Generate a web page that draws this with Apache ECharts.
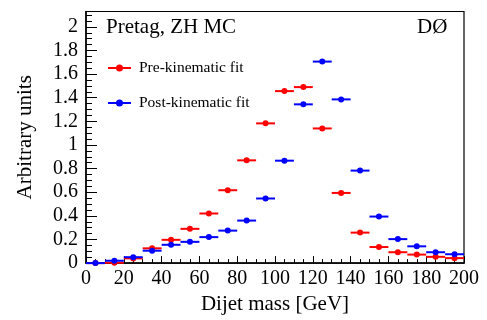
<!DOCTYPE html>
<html>
<head>
<meta charset="utf-8">
<script src="https://cdn.jsdelivr.net/npm/echarts@6/dist/echarts.min.js"></script>
<style>html,body{margin:0;padding:0;background:#fff}#c{width:487px;height:320px}</style>
</head>
<body>
<div id="c"></div>
<script>
// Bin centres (GeV), bin width 10 GeV
var binCenters = [5, 15, 25, 35, 45, 55, 65, 75, 85, 95, 105, 115, 125, 135, 145, 155, 165, 175, 185, 195];
var binWidth = 10;
var preFit  = [0.0, 0.003, 0.04, 0.125, 0.197, 0.29, 0.42, 0.617, 0.87, 1.183, 1.456, 1.49, 1.14, 0.594, 0.258, 0.136, 0.092, 0.072, 0.053, 0.042];
var postFit = [0.0, 0.02, 0.05, 0.105, 0.155, 0.18, 0.22, 0.275, 0.36, 0.547, 0.867, 1.344, 1.706, 1.386, 0.783, 0.394, 0.203, 0.142, 0.092, 0.075];
var seriesNames = ['Pre-kinematic fit', 'Post-kinematic fit'];
var seriesColors = ['#ff0000', '#0000ff'];
var xTitle = 'Dijet mass [GeV]';
var yTitle = 'Arbitrary units';
var label1 = 'Pretag, ZH MC';
var label2 = 'DØ';

var FONT = 'Liberation Serif';

function makeData(vals) {
  return binCenters.map(function (x, i) { return [x, vals[i]]; });
}
function makeRender(color) {
  return function (params, api) {
    var x = api.value(0), y = api.value(1);
    var p1 = api.coord([x - binWidth / 2, y]);
    var p2 = api.coord([x + binWidth / 2, y]);
    var c = api.coord([x, y]);
    return {
      type: 'group',
      children: [
        { type: 'line', shape: { x1: p1[0], y1: p1[1], x2: p2[0], y2: p2[1] }, style: { stroke: color, lineWidth: 2 } },
        { type: 'circle', shape: { cx: c[0], cy: c[1], r: 3 }, style: { fill: color } }
      ]
    };
  };
}
var legendIcon = 'path://M0,2.5 L23,2.5 L23,4.5 L0,4.5 Z M8,3.5 A3.5,3.5 0 1,1 15,3.5 A3.5,3.5 0 1,1 8,3.5 Z';

var chart = echarts.init(document.getElementById('c'), null, { renderer: 'canvas' });
var tickLabel = { fontFamily: FONT, fontSize: 20, color: '#000' };
chart.setOption({
  animation: false,
  backgroundColor: '#fff',
  grid: { left: 86, right: 23, top: 11.5, bottom: 53.3, show: true, borderColor: '#000', borderWidth: 1.2, backgroundColor: 'transparent' },
  xAxis: [{
    type: 'value', min: 0, max: 200, interval: 20,
    axisLine: { show: true, onZero: false, lineStyle: { color: '#000', width: 1.5 } },
    axisTick: { show: true, inside: true, length: 7, lineStyle: { color: '#000', width: 1 } },
    minorTick: { show: true, splitNumber: 4, length: 4, lineStyle: { color: '#000', width: 1 } },
    splitLine: { show: false },
    axisLabel: Object.assign({ margin: 6 }, tickLabel),
    name: xTitle, nameLocation: 'middle', nameGap: 30,
    nameTextStyle: { fontFamily: FONT, fontSize: 21, color: '#000' }
  }],
  yAxis: [{
    type: 'value', min: 0, max: 2.13, interval: 0.2,
    axisLine: { show: true, onZero: false, lineStyle: { color: '#000', width: 1.5 } },
    axisTick: { show: true, inside: true, length: 11, lineStyle: { color: '#000', width: 1 } },
    splitLine: { show: false },
    axisLabel: Object.assign({ margin: 8, showMaxLabel: false,
      formatter: function (v) { return (Math.round(v * 10) / 10).toString(); } }, tickLabel),
    name: yTitle, nameLocation: 'middle', nameGap: 50,
    nameTextStyle: { fontFamily: FONT, fontSize: 21, color: '#000' }
  }, {
    type: 'value', min: 0, max: 2.13, interval: 0.05, position: 'left',
    axisLine: { show: false },
    axisTick: { show: true, inside: true, length: 6, lineStyle: { color: '#000', width: 1 } },
    splitLine: { show: false },
    axisLabel: { show: false }
  }],
  legend: {
    orient: 'vertical', left: 103, top: 55, itemGap: 19,
    itemWidth: 23, itemHeight: 7,
    textStyle: { fontFamily: FONT, fontSize: 15.5, color: '#000', lineHeight: 16, padding: [0, 0, 0, 3] },
    data: [
      { name: seriesNames[0], icon: legendIcon, itemStyle: { color: seriesColors[0] } },
      { name: seriesNames[1], icon: legendIcon, itemStyle: { color: seriesColors[1] } }
    ]
  },
  graphic: [
    { type: 'text', left: 106, top: 17, style: { text: label1, font: '21px "' + FONT + '"', fill: '#000' } },
    { type: 'text', left: 417, top: 17, style: { text: label2, font: '21px "' + FONT + '"', fill: '#000' } }
  ],
  series: [
    { type: 'custom', name: seriesNames[0], itemStyle: { color: seriesColors[0] }, renderItem: makeRender(seriesColors[0]), data: makeData(preFit), encode: { x: 0, y: 1 } },
    { type: 'custom', name: seriesNames[1], itemStyle: { color: seriesColors[1] }, renderItem: makeRender(seriesColors[1]), data: makeData(postFit), encode: { x: 0, y: 1 } }
  ]
});
</script>
</body>
</html>
